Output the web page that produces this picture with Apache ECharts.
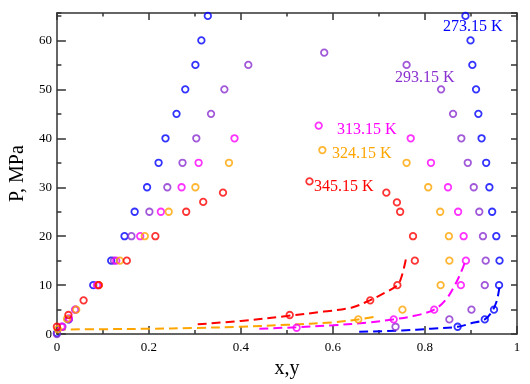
<!DOCTYPE html>
<html>
<head>
<meta charset="utf-8">
<script src="https://cdn.jsdelivr.net/npm/echarts@6/dist/echarts.min.js"></script>
<style>html,body{margin:0;padding:0;background:#fff}#c{width:530px;height:384px}</style>
</head>
<body>
<div id="c"></div>
<script>
// ---- data: isotherms (composition x or y, pressure P in MPa) ----
const seriesNames = ['273.15 K', '293.15 K', '313.15 K', '324.15 K', '345.15 K'];
const seriesColors = ['#0000ff', '#8a2fd0', '#ff00ff', '#ffa500', '#ff0000'];

const x273 = [0, 0.025, 0.079, 0.118, 0.147, 0.169, 0.196, 0.221, 0.236, 0.260, 0.279, 0.301, 0.314, 0.328,
              0.888, 0.899, 0.903, 0.911, 0.916, 0.923, 0.933, 0.940, 0.946, 0.955, 0.962, 0.961, 0.950, 0.930, 0.871];
const p273 = [0.2, 3, 10, 15, 20, 25, 30, 35, 40, 45, 50, 55, 60, 65,
              65, 60, 55, 50, 45, 40, 35, 30, 25, 20, 15, 10, 5, 3, 1.5];

const x293 = [0, 0.012, 0.026, 0.040, 0.089, 0.124, 0.162, 0.201, 0.240, 0.273, 0.303, 0.335, 0.364, 0.416, 0.581,
              0.760, 0.835, 0.861, 0.879, 0.893, 0.906, 0.918, 0.926, 0.932, 0.930, 0.901, 0.853, 0.736];
const p293 = [0, 1.5, 3, 5, 10, 15, 20, 25, 30, 35, 40, 45, 50, 55, 57.5,
              55, 50, 45, 40, 35, 30, 25, 20, 15, 10, 5, 3, 1.5];

const x313 = [0.010, 0.026, 0.040, 0.087, 0.129, 0.181, 0.226, 0.271, 0.308, 0.386, 0.569,
              0.769, 0.813, 0.850, 0.872, 0.884, 0.889, 0.878, 0.820, 0.732, 0.521];
const p313 = [1.5, 3.2, 5, 10, 15, 20, 25, 30, 35, 40, 42.6,
              40, 35, 30, 25, 20, 15, 10, 5, 3, 1.3];

const x324 = [0.002, 0.022, 0.042, 0.091, 0.137, 0.191, 0.243, 0.301, 0.374, 0.577,
              0.760, 0.807, 0.833, 0.852, 0.853, 0.834, 0.751, 0.655];
const p324 = [1, 3.1, 5, 10, 15, 20, 25, 30, 35, 37.6,
              35, 30, 25, 20, 15, 10, 5, 3];

const x345 = [0, 0.025, 0.058, 0.091, 0.152, 0.214, 0.281, 0.318, 0.361, 0.549,
              0.716, 0.739, 0.746, 0.774, 0.778, 0.740, 0.681, 0.506];
const p345 = [1.5, 3.9, 6.9, 10, 15, 20, 25, 27, 28.9, 31.2,
              28.9, 26.9, 25, 20, 15, 10, 6.9, 3.9];

// ---- dashed model curves ----
const lineX273 = [0.657, 0.75, 0.813, 0.871, 0.90, 0.93, 0.945, 0.955, 0.96, 0.963];
const lineP273 = [0.46, 0.75, 1.1, 1.5, 2.2, 3.0, 4.5, 6.5, 8.5, 10.5];
const lineX313 = [0.44, 0.52, 0.60, 0.68, 0.73, 0.78, 0.82, 0.845, 0.865, 0.88, 0.888];
const lineP313 = [1.1, 1.4, 1.8, 2.4, 3.0, 3.8, 5, 7, 10, 13, 15];
const lineX324 = [0, 0.1, 0.2, 0.3, 0.4, 0.5, 0.6, 0.655, 0.69];
const lineP324 = [0.95, 1.0, 1.1, 1.25, 1.5, 1.9, 2.4, 3.0, 3.5];
const lineX345 = [0.306, 0.4, 0.5, 0.58, 0.64, 0.68, 0.71, 0.74, 0.75, 0.76];
const lineP345 = [2.0, 2.7, 3.7, 4.6, 5.4, 6.9, 8.3, 10, 12, 16];

const xTicks = [0, 0.2, 0.4, 0.6, 0.8, 1];
const yTicks = [0, 10, 20, 30, 40, 50, 60];

// ---- build ----
const zip = (a, b) => a.map((v, i) => [v, b[i]]);
const pointSets = [zip(x273, p273), zip(x293, p293), zip(x313, p313), zip(x324, p324), zip(x345, p345)];
const lineSets = [
  [zip(lineX273, lineP273), seriesColors[0]],
  [zip(lineX313, lineP313), seriesColors[2]],
  [zip(lineX324, lineP324), seriesColors[3]],
  [zip(lineX345, lineP345), seriesColors[4]]
];

const font = 'Liberation Serif';
const axisLineStyle = {show: true, onZero: false, lineStyle: {color: '#333', width: 1.5}};

const series = [];
lineSets.forEach(([d, c]) => series.push({
  type: 'line', data: d, showSymbol: false, smooth: 0.35, xAxisIndex: 0, yAxisIndex: 0,
  lineStyle: {color: c, width: 2, type: [9, 5]}, z: 2, silent: true
}));
pointSets.forEach((d, i) => series.push({
  type: 'scatter', name: seriesNames[i], data: d, symbol: 'circle', symbolSize: 6.5,
  xAxisIndex: 0, yAxisIndex: 0,
  itemStyle: {color: 'rgba(0,0,0,0)', borderColor: seriesColors[i], borderWidth: 1.8}, z: 3
}));

const labelPos = [[443, 28], [395, 79], [337, 131], [332, 155], [314, 188]];
const graphic = seriesNames.map((n, i) => ({
  type: 'text', left: labelPos[i][0], top: labelPos[i][1] - 9,
  style: {text: n, fill: seriesColors[i], font: '16px "' + font + '"'}
}));

const chart = echarts.init(document.getElementById('c'), null, {renderer: 'canvas'});
chart.setOption({
  animation: false,
  backgroundColor: '#fff',
  grid: {left: 48, right: 13, top: 13, bottom: 44, containLabel: false},
  xAxis: [
    {type: 'value', position: 'bottom', min: 0, max: 1, interval: 0.2,
     axisLine: axisLineStyle, splitLine: {show: false},
     axisTick: {inside: true, length: 8, lineStyle: {color: '#333', width: 1.5}},
     minorTick: {show: true, splitNumber: 2, length: 4, lineStyle: {color: '#333', width: 1.5}},
     axisLabel: {color: '#000', fontFamily: font, fontSize: 13, margin: 7,
       formatter: v => xTicks.includes(Math.round(v * 10) / 10) ? String(Math.round(v * 10) / 10) : ''},
     name: 'x,y', nameLocation: 'middle', nameGap: 18,
     nameTextStyle: {color: '#000', fontFamily: font, fontSize: 20}},
    {type: 'value', position: 'top', min: 0, max: 1, interval: 0.2,
     axisLine: axisLineStyle, splitLine: {show: false},
     axisTick: {inside: true, length: 7, lineStyle: {color: '#333', width: 1.5}},
     minorTick: {show: true, splitNumber: 2, length: 3.5, lineStyle: {color: '#333', width: 1.5}},
     axisLabel: {show: false}}
  ],
  yAxis: [
    {type: 'value', position: 'left', min: 0, max: 65.6, interval: 10,
     axisLine: axisLineStyle, splitLine: {show: false},
     axisTick: {inside: true, length: 9, lineStyle: {color: '#333', width: 1.5}},
     axisLabel: {color: '#000', fontFamily: font, fontSize: 13, margin: 5, showMaxLabel: false,
       formatter: v => yTicks.includes(v) ? String(v) : ''},
     name: 'P, MPa', nameLocation: 'middle', nameGap: 24, nameRotate: 90,
     nameTextStyle: {color: '#000', fontFamily: font, fontSize: 20}},
    {type: 'value', position: 'left', min: 0, max: 65.6, interval: 5,
     axisLine: {show: false, onZero: false}, splitLine: {show: false},
     axisTick: {inside: true, length: 4.5, lineStyle: {color: '#333', width: 1.5}},
     axisLabel: {show: false}},
    {type: 'value', position: 'right', min: 0, max: 65.6, interval: 5,
     axisLine: axisLineStyle, splitLine: {show: false},
     axisTick: {inside: true, length: 6, lineStyle: {color: '#333', width: 1.5}},
     axisLabel: {show: false}}
  ],
  graphic: graphic,
  series: series
});
</script>
</body>
</html>
